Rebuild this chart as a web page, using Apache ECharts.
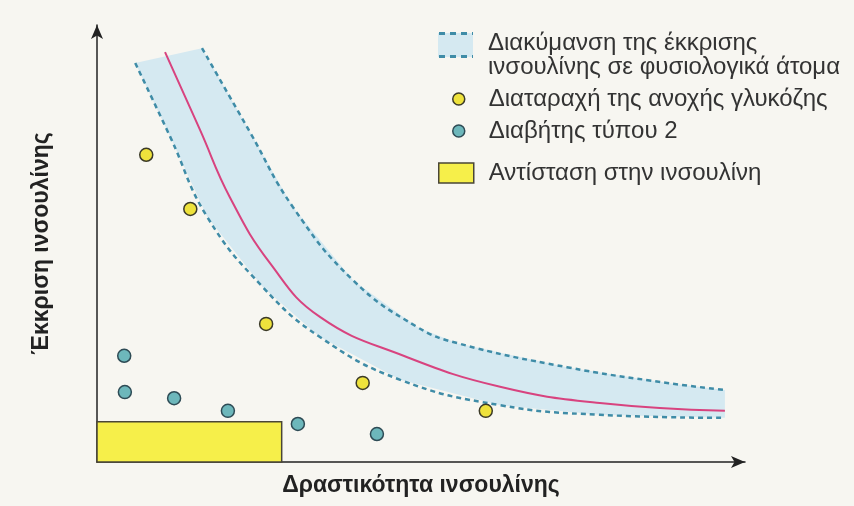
<!DOCTYPE html>
<html>
<head>
<meta charset="utf-8">
<script src="https://cdn.jsdelivr.net/npm/echarts@6/dist/echarts.min.js"></script>
<style>
  html, body { margin: 0; padding: 0; background: #f7f6f1; }
  #chart { width: 854px; height: 506px; }
</style>
</head>
<body>
<div id="chart"></div>
<script>
// ---- Data (arbitrary 0–100 units on both axes) ----
const normalCenter = [[10.5,93.8],[15.9,76.0],[20.5,60.6],[26.7,45.5],[34.4,33.2],[47.5,24.2],[62.2,17.2],[77.6,13.5],[96.9,11.7]];
const lowerBound   = [[5.9,91.3],[11.3,74.4],[17.0,56.1],[25.6,40.0],[34.4,28.6],[46.8,18.8],[62.2,13.0],[77.6,10.8],[96.9,10.1]];
const upperBound   = [[16.2,94.7],[23.6,75.5],[30.2,58.4],[39.5,41.6],[49.4,30.9],[55.6,27.2],[72.5,21.7],[88.0,18.1],[96.9,16.5]];
const impairedGlucose = [[7.6,70.3],[14.4,57.9],[26.1,31.6],[41.0,18.1],[60.0,11.7]];
const type2Diabetes   = [[4.2,24.3],[4.3,16.0],[11.9,14.6],[20.2,11.7],[31.0,8.7],[43.2,6.4]];
const resistanceBox   = [[0, 28.5, 0, 9.2]]; // [xStart, xEnd, yStart, yEnd]

const names = {
  band: 'Διακύμανση της έκκρισης\nινσουλίνης σε φυσιολογικά άτομα',
  impaired: 'Διαταραχή της ανοχής γλυκόζης',
  diabetes: 'Διαβήτης τύπου 2',
  resistance: 'Αντίσταση στην ινσουλίνη'
};
const bandPolygon = lowerBound.concat(upperBound.slice().reverse());

const FONT = "'Liberation Sans', Arial, sans-serif";
const C = {
  band: '#d5e9f1', dash: '#3f8ca7', center: '#d8437f',
  yellow: '#eee23c', teal: '#6db7bb', ink: '#333333', box: '#f6ef4a'
};

// legend icon: dashed band in the upper part of a taller transparent image,
// so that it lines up with the first of the two text lines
const bandIconSvg =
  '<svg xmlns="http://www.w3.org/2000/svg" width="35" height="48" viewBox="0 0 35 48">' +
  '<rect x="0" y="2" width="35" height="24" fill="' + C.band + '"/>' +
  '<line x1="1" y1="2.5" x2="35" y2="2.5" stroke="' + C.dash + '" stroke-width="3" stroke-dasharray="6,5"/>' +
  '<line x1="1" y1="25.5" x2="35" y2="25.5" stroke="' + C.dash + '" stroke-width="3" stroke-dasharray="6,5"/>' +
  '</svg>';
const bandIcon = 'image://data:image/svg+xml;charset=utf-8,' + encodeURIComponent(bandIconSvg);

const chart = echarts.init(document.getElementById('chart'), null, { renderer: 'canvas' });
const legendText = { fontSize: 24, color: C.ink, fontFamily: FONT, lineHeight: 24 };

const lineCommon = { type: 'line', smooth: 0.45, showSymbol: false, z: 3, silent: true };

chart.setOption({
  animation: false,
  backgroundColor: '#f7f6f1',
  grid: { left: 97, right: 109, top: 25, bottom: 44 },
  xAxis: {
    type: 'value', min: 0, max: 100,
    name: 'Δραστικότητα ινσουλίνης', nameLocation: 'middle', nameGap: 12,
    nameTextStyle: { fontSize: 23, fontWeight: 'bold', color: '#222', fontFamily: FONT, verticalAlign: 'top' },
    axisLine: { show: true, symbol: ['none', 'arrow'], symbolSize: [9, 14], lineStyle: { color: '#222', width: 1.5 } },
    axisTick: { show: false }, axisLabel: { show: false }, splitLine: { show: false }
  },
  yAxis: {
    type: 'value', min: 0, max: 100,
    name: 'Έκκριση ινσουλίνης', nameLocation: 'middle', nameGap: 44,
    nameTextStyle: { fontSize: 23, fontWeight: 'bold', color: '#222', fontFamily: FONT },
    axisLine: { show: true, symbol: ['none', 'arrow'], symbolSize: [9, 14], lineStyle: { color: '#222', width: 1.5 } },
    axisTick: { show: false }, axisLabel: { show: false }, splitLine: { show: false }
  },
  legend: [
    {
      left: 438, top: 31, padding: 0, orient: 'vertical',
      itemWidth: 35, itemHeight: 48,
      textStyle: Object.assign({}, legendText, { lineHeight: 24, padding: [0, 0, 0, 10] }),
      data: [{ name: names.band, icon: bandIcon }],
      selectedMode: false
    },
    {
      left: 452, top: 87, padding: 0, orient: 'vertical',
      itemWidth: 12, itemHeight: 12, itemGap: 8,
      textStyle: Object.assign({}, legendText, { padding: [0, 0, 0, 19] }),
      data: [
        { name: names.impaired, icon: 'circle', itemStyle: { color: C.yellow, borderColor: '#3b3a28', borderWidth: 1.5 } },
        { name: names.diabetes, icon: 'circle', itemStyle: { color: C.teal, borderColor: '#2e4b55', borderWidth: 1.5 } }
      ],
      selectedMode: false
    },
    {
      left: 438, top: 161, padding: 0, orient: 'vertical',
      itemWidth: 35, itemHeight: 20,
      textStyle: Object.assign({}, legendText, { padding: [0, 0, 0, 10] }),
      data: [{ name: names.resistance, icon: 'rect', itemStyle: { color: C.box, borderColor: '#4a4636', borderWidth: 1.5 } }],
      selectedMode: false
    }
  ],
  series: [
    {
      name: names.band, type: 'custom', z: 1,
      data: bandPolygon,
      encode: { x: 0, y: 1 },
      itemStyle: { color: C.band },
      renderItem: function (params, api) {
        if (params.dataIndex !== 0) return null;
        const pts = bandPolygon.map(p => api.coord(p));
        return { type: 'polygon', shape: { points: pts, smooth: 0 }, style: { fill: C.band } };
      }
    },
    Object.assign({ name: 'lower', data: lowerBound, lineStyle: { color: C.dash, width: 2.5, type: [5, 4] } }, lineCommon),
    Object.assign({ name: 'upper', data: upperBound, lineStyle: { color: C.dash, width: 2.5, type: [5, 4] } }, lineCommon),
    Object.assign({ name: 'center', data: normalCenter, lineStyle: { color: C.center, width: 2 } }, lineCommon),
    {
      name: names.resistance, type: 'custom', z: 2,
      data: resistanceBox,
      encode: { x: [0, 1], y: [2, 3] },
      itemStyle: { color: C.box },
      renderItem: function (params, api) {
        const p0 = api.coord([api.value(0), api.value(2)]);
        const p1 = api.coord([api.value(1), api.value(3)]);
        return {
          type: 'rect',
          shape: { x: p0[0], y: p1[1], width: p1[0] - p0[0], height: p0[1] - p1[1] },
          style: { fill: C.box, stroke: '#4a4636', lineWidth: 1.5 }
        };
      }
    },
    {
      name: names.impaired, type: 'scatter', data: impairedGlucose, symbolSize: 13, z: 5,
      itemStyle: { color: C.yellow, borderColor: '#3b3a28', borderWidth: 1.5, opacity: 1 }
    },
    {
      name: names.diabetes, type: 'scatter', data: type2Diabetes, symbolSize: 13, z: 5,
      itemStyle: { color: C.teal, borderColor: '#2e4b55', borderWidth: 1.5, opacity: 1 }
    }
  ]
});
</script>
</body>
</html>
